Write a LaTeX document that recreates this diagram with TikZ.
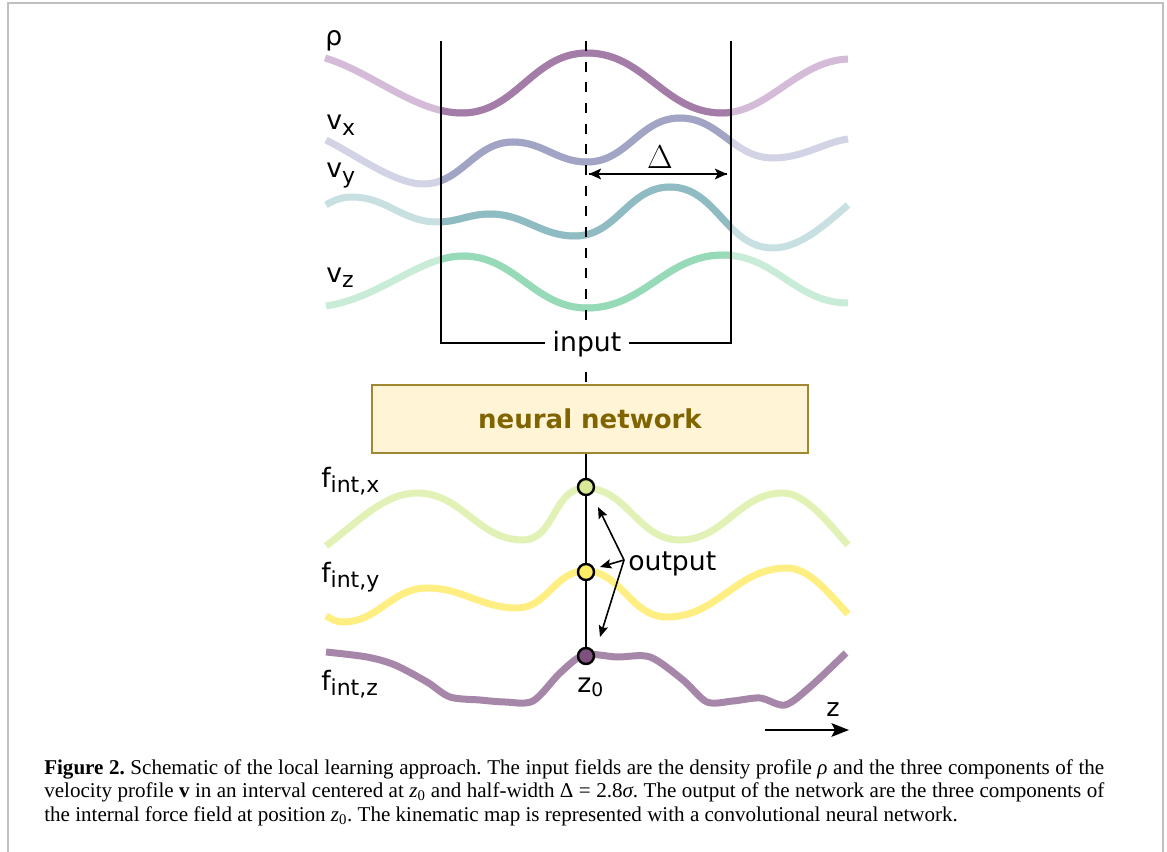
\documentclass[tikz,border=0pt]{standalone}
\usepackage{fontspec}
\setmainfont{Liberation Serif}
\newfontfamily\dejavu{DejaVu Sans}
\usetikzlibrary{arrows.meta}
\definecolor{frameg}{RGB}{192,192,192}
\definecolor{rhoD}{RGB}{163,124,168}
\definecolor{rhoL}{RGB}{212,188,216}
\definecolor{vxD}{RGB}{161,164,196}
\definecolor{vxL}{RGB}{210,211,229}
\definecolor{vyD}{RGB}{142,188,194}
\definecolor{vyL}{RGB}{200,224,226}
\definecolor{vzD}{RGB}{151,218,183}
\definecolor{vzL}{RGB}{201,236,216}
\definecolor{fxC}{RGB}{226,242,182}
\definecolor{fyC}{RGB}{255,238,130}
\definecolor{fzC}{RGB}{166,135,170}
\definecolor{dotx}{RGB}{215,232,150}
\definecolor{doty}{RGB}{255,238,100}
\definecolor{dotz}{RGB}{125,80,125}
\definecolor{nnfill}{RGB}{255,245,214}
\definecolor{nndraw}{RGB}{160,135,50}
\definecolor{nntext}{RGB}{128,100,0}
\newcommand\labfont{\dejavu\fontsize{20}{24}\selectfont}
\newcommand\dsub[1]{\raisebox{-4pt}{\fontsize{16.5}{20}\selectfont #1}}
\newcommand\capfont{\fontsize{15.8}{18}\selectfont}
\newcommand\cRho{(325,58) .. controls (372,72) and (415,113) .. (462,113) to[out=0,in=180] (587,53) to[out=0,in=180] (722,113) .. controls (768,113) and (797,61) .. (848,59)}
\newcommand\cVx{(326,140) .. controls (356,155) and (395,184) .. (423,184) to[out=0,in=180] (513,142) to[out=0,in=180] (587,162) to[out=0,in=180] (680,118) to[out=0,in=180] (773,158) .. controls (803,158) and (825,142) .. (848,139)}
\newcommand\cVy{(326,205) .. controls (334,200) and (342,197) .. (352,197) to[out=0,in=180] (437,222) to[out=0,in=180] (490,214) to[out=0,in=180] (575,236) to[out=0,in=180] (670,187) to[out=0,in=180] (773,248) .. controls (800,248) and (826,224) .. (848,205)}
\newcommand\cVz{(326,306) .. controls (380,298) and (420,256) .. (463,256) to[out=0,in=180] (587,308) to[out=0,in=180] (723,255) to[out=0,in=180] (848,303)}
\begin{document}
\begin{tikzpicture}[x=0.75pt,y=-0.75pt,
  lbl/.style={anchor=base west, inner sep=0pt, font=\labfont},
  curve/.style={line width=5.25pt},
  vline/.style={line width=1.5pt, draw=black},
  dot/.style={circle, draw=black, line width=1.8pt, minimum size=12pt, inner sep=0pt},
  tipA/.style={-{Stealth[length=9pt,width=8pt,inset=2pt]}},
  tipO/.style={line width=1.2pt, -{Stealth[length=8.5pt,width=7pt,inset=1.5pt]}},
  capline/.style={anchor=base west, inner sep=0pt, font=\capfont}]
\useasboundingbox (0,0) rectangle (1167,852);
% frame
\draw[frameg, line width=1.5pt] (7.5,852) -- (7.5,3.5) -- (1163,3.5) -- (1163,852);
% input curves: light full, dark inside the window
\draw[curve, rhoL] \cRho;
\draw[curve, vxL] \cVx;
\draw[curve, vyL] \cVy;
\draw[curve, vzL] \cVz;
\begin{scope}
  \clip (441,0) rectangle (731,400);
  \draw[curve, rhoD] \cRho;
  \draw[curve, vxD] \cVx;
  \draw[curve, vyD] \cVy;
  \draw[curve, vzD] \cVz;
\end{scope}
% labels
\node[lbl] (lrho) at (325,46) {ρ};
\node[lbl] (lvx) at (326,130) {v\dsub{x}};
\node[lbl] (lvy) at (326,178) {v\dsub{y}};
\node[lbl] (lvz) at (326,282) {v\dsub{z}};
% network box
\node[draw=nndraw, fill=nnfill, line width=1.5pt, minimum width=436*0.75pt, minimum height=68*0.75pt,
      font=\dejavu\bfseries\fontsize{19.5}{23}\selectfont, text=nntext] (nn) at (590,419) {neural network};
% window bracket and centre line
\coordinate (wl) at (441,41);
\coordinate (wr) at (731,41);
\coordinate (dtop) at (586,41);
\draw[vline] (wl) -- (441,343) -- (731,343) -- (wr);
\draw[vline, dash pattern=on 7.5pt off 8pt] (dtop) -- (dtop |- nn.north);
\node[fill=white, inner xsep=5.5pt, inner ysep=4pt, font=\labfont] (inp) at (587,344) {input};
% Delta
\coordinate (da) at (589,174);
\coordinate (db) at (727,174);
\draw[line width=1.5pt, tipA] (da) -- (db);
\draw[line width=1.5pt, tipA] (db) -- (da);
\node[font=\fontsize{24}{28}\selectfont] (delta) at (660,157) {$\Delta$};
% output curves
\draw[curve, fxC] (326,546) .. controls (360,520) and (385,493) .. (417,493) to[out=0,in=180] (523,540) to[out=0,in=180] (585,488) to[out=0,in=180] (680,540) to[out=0,in=180] (783,493) .. controls (806,493) and (830,525) .. (848,545);
\draw[curve, fyC] (326,616) .. controls (333,620) and (337,622) .. (343,622) to[out=0,in=180] (427,588) to[out=0,in=180] (517,608) to[out=0,in=180] (585,571) to[out=0,in=180] (667,617) to[out=0,in=180] (787,568) .. controls (810,568) and (830,595) .. (848,614);
\draw[curve, fzC] plot[smooth,tension=0.5] coordinates {(326,652) (367,657) (395,665) (427,682) (450,697) (480,700) (505,702) (533,701) (560,673) (584,655) (617,657) (650,657) (683,680) (707,702) (733,701) (760,698) (785,705) (810,687) (846,653)};
\node[lbl] (lfx) at (321,487) {f\dsub{int,x}};
\node[lbl] (lfy) at (321,582) {f\dsub{int,y}};
\node[lbl] (lfz) at (321,690) {f\dsub{int,z}};
% output points
\coordinate (cxp) at (586,487);
\coordinate (cyp) at (586,572);
\coordinate (czp) at (586,656);
\draw[vline] (czp |- nn.south) -- (czp);
\node[dot, fill=dotx] (cx) at (cxp) {};
\node[dot, fill=doty] (cy) at (cyp) {};
\node[dot, fill=dotz] (cz) at (czp) {};
\node[lbl] (out) at (628,570) {output};
\coordinate (o) at (624,560);
\coordinate (ox) at (598,507);
\coordinate (oy) at (600,567);
\coordinate (oz) at (600,637);
\draw[tipO] (o) -- (ox);
\draw[tipO] (o) -- (oy);
\draw[tipO] (o) -- (oz);
\node[lbl] (z0) at (577,692) {z\raisebox{-3.5pt}{\fontsize{14}{16}\selectfont 0}};
% z axis
\coordinate (za) at (765,730);
\coordinate (zb) at (849,730);
\draw[line width=2.2pt, -{Stealth[length=13pt,width=10pt,inset=2.5pt]}] (za) -- (zb);
\node[anchor=base west, inner sep=0pt, font=\dejavu\fontsize{19}{22}\selectfont] (zl) at (826,716) {z};
% caption
\node[capline] (cap1) at (44,774) {\frenchspacing\makebox[795pt][s]{\textbf{Figure 2.} Schematic of the local learning approach. The input fields are the density profile \textit{ρ} and the three components of the}};
\node[capline] (cap2) at (44,797) {\frenchspacing\makebox[795pt][s]{velocity profile \textbf{v} in an interval centered at \textit{z}\textsubscript{0} and half-width Δ = 2.8\textit{σ}. The output of the network are the three components of}};
\node[capline] (cap3) at (44,821) {\frenchspacing the internal force field at position \textit{z}\textsubscript{0}. The kinematic map is represented with a convolutional neural network.};
\end{tikzpicture}
\end{document}
